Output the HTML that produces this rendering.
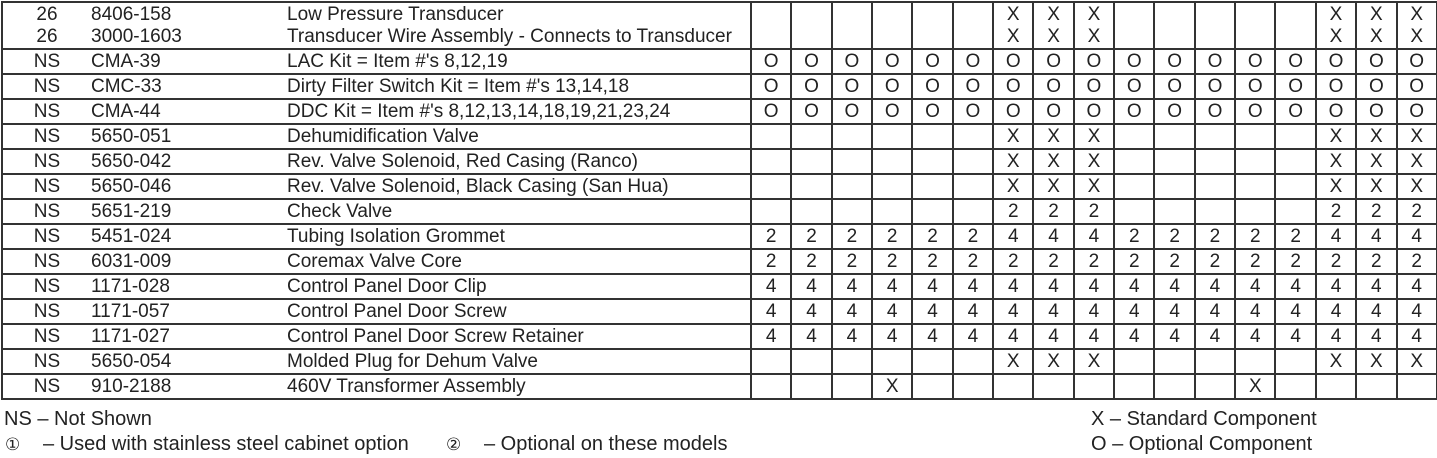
<!DOCTYPE html>
<html><head><meta charset="utf-8"><style>
body{margin:0;width:1437px;height:458px;background:#fff;font-family:"Liberation Sans",sans-serif;color:#222;overflow:hidden;position:relative}
table{position:absolute;left:1px;top:1px;border-collapse:collapse;table-layout:fixed;width:1435px;font-size:19px}
td{border:2px solid #333;padding:0;padding-top:1px;line-height:22px;white-space:nowrap;overflow:hidden}
td.a{border-right:none;text-align:center}
td.b{border-left:none;border-right:none}
td.d{border-left:none}
td.c{text-align:center}
tr{height:25px}
tr.t{height:47px}
.f{position:absolute;font-size:20px;line-height:22px;white-space:nowrap}
.s{font-size:17px}
</style></head><body>
<table>
<colgroup><col style="width:89px"><col style="width:196px"><col style="width:464px"><col span="17" style="width:40.35px"></colgroup>
<tr class="t"><td class="a">26<br>26</td><td class="b">8406-158<br>3000-1603</td><td class="d">Low Pressure Transducer<br>Transducer Wire Assembly - Connects to Transducer</td><td></td><td></td><td></td><td></td><td></td><td></td><td class="c">X<br>X</td><td class="c">X<br>X</td><td class="c">X<br>X</td><td></td><td></td><td></td><td></td><td></td><td class="c">X<br>X</td><td class="c">X<br>X</td><td class="c">X<br>X</td></tr>
<tr><td class="a">NS</td><td class="b">CMA-39</td><td class="d">LAC Kit = Item #'s 8,12,19</td><td class="c">O</td><td class="c">O</td><td class="c">O</td><td class="c">O</td><td class="c">O</td><td class="c">O</td><td class="c">O</td><td class="c">O</td><td class="c">O</td><td class="c">O</td><td class="c">O</td><td class="c">O</td><td class="c">O</td><td class="c">O</td><td class="c">O</td><td class="c">O</td><td class="c">O</td></tr>
<tr><td class="a">NS</td><td class="b">CMC-33</td><td class="d">Dirty Filter Switch Kit = Item #'s 13,14,18</td><td class="c">O</td><td class="c">O</td><td class="c">O</td><td class="c">O</td><td class="c">O</td><td class="c">O</td><td class="c">O</td><td class="c">O</td><td class="c">O</td><td class="c">O</td><td class="c">O</td><td class="c">O</td><td class="c">O</td><td class="c">O</td><td class="c">O</td><td class="c">O</td><td class="c">O</td></tr>
<tr><td class="a">NS</td><td class="b">CMA-44</td><td class="d">DDC Kit = Item #'s 8,12,13,14,18,19,21,23,24</td><td class="c">O</td><td class="c">O</td><td class="c">O</td><td class="c">O</td><td class="c">O</td><td class="c">O</td><td class="c">O</td><td class="c">O</td><td class="c">O</td><td class="c">O</td><td class="c">O</td><td class="c">O</td><td class="c">O</td><td class="c">O</td><td class="c">O</td><td class="c">O</td><td class="c">O</td></tr>
<tr><td class="a">NS</td><td class="b">5650-051</td><td class="d">Dehumidification Valve</td><td></td><td></td><td></td><td></td><td></td><td></td><td class="c">X</td><td class="c">X</td><td class="c">X</td><td></td><td></td><td></td><td></td><td></td><td class="c">X</td><td class="c">X</td><td class="c">X</td></tr>
<tr><td class="a">NS</td><td class="b">5650-042</td><td class="d">Rev. Valve Solenoid, Red Casing (Ranco)</td><td></td><td></td><td></td><td></td><td></td><td></td><td class="c">X</td><td class="c">X</td><td class="c">X</td><td></td><td></td><td></td><td></td><td></td><td class="c">X</td><td class="c">X</td><td class="c">X</td></tr>
<tr><td class="a">NS</td><td class="b">5650-046</td><td class="d">Rev. Valve Solenoid, Black Casing (San Hua)</td><td></td><td></td><td></td><td></td><td></td><td></td><td class="c">X</td><td class="c">X</td><td class="c">X</td><td></td><td></td><td></td><td></td><td></td><td class="c">X</td><td class="c">X</td><td class="c">X</td></tr>
<tr><td class="a">NS</td><td class="b">5651-219</td><td class="d">Check Valve</td><td></td><td></td><td></td><td></td><td></td><td></td><td class="c">2</td><td class="c">2</td><td class="c">2</td><td></td><td></td><td></td><td></td><td></td><td class="c">2</td><td class="c">2</td><td class="c">2</td></tr>
<tr><td class="a">NS</td><td class="b">5451-024</td><td class="d">Tubing Isolation Grommet</td><td class="c">2</td><td class="c">2</td><td class="c">2</td><td class="c">2</td><td class="c">2</td><td class="c">2</td><td class="c">4</td><td class="c">4</td><td class="c">4</td><td class="c">2</td><td class="c">2</td><td class="c">2</td><td class="c">2</td><td class="c">2</td><td class="c">4</td><td class="c">4</td><td class="c">4</td></tr>
<tr><td class="a">NS</td><td class="b">6031-009</td><td class="d">Coremax Valve Core</td><td class="c">2</td><td class="c">2</td><td class="c">2</td><td class="c">2</td><td class="c">2</td><td class="c">2</td><td class="c">2</td><td class="c">2</td><td class="c">2</td><td class="c">2</td><td class="c">2</td><td class="c">2</td><td class="c">2</td><td class="c">2</td><td class="c">2</td><td class="c">2</td><td class="c">2</td></tr>
<tr><td class="a">NS</td><td class="b">1171-028</td><td class="d">Control Panel Door Clip</td><td class="c">4</td><td class="c">4</td><td class="c">4</td><td class="c">4</td><td class="c">4</td><td class="c">4</td><td class="c">4</td><td class="c">4</td><td class="c">4</td><td class="c">4</td><td class="c">4</td><td class="c">4</td><td class="c">4</td><td class="c">4</td><td class="c">4</td><td class="c">4</td><td class="c">4</td></tr>
<tr><td class="a">NS</td><td class="b">1171-057</td><td class="d">Control Panel Door Screw</td><td class="c">4</td><td class="c">4</td><td class="c">4</td><td class="c">4</td><td class="c">4</td><td class="c">4</td><td class="c">4</td><td class="c">4</td><td class="c">4</td><td class="c">4</td><td class="c">4</td><td class="c">4</td><td class="c">4</td><td class="c">4</td><td class="c">4</td><td class="c">4</td><td class="c">4</td></tr>
<tr><td class="a">NS</td><td class="b">1171-027</td><td class="d">Control Panel Door Screw Retainer</td><td class="c">4</td><td class="c">4</td><td class="c">4</td><td class="c">4</td><td class="c">4</td><td class="c">4</td><td class="c">4</td><td class="c">4</td><td class="c">4</td><td class="c">4</td><td class="c">4</td><td class="c">4</td><td class="c">4</td><td class="c">4</td><td class="c">4</td><td class="c">4</td><td class="c">4</td></tr>
<tr><td class="a">NS</td><td class="b">5650-054</td><td class="d">Molded Plug for Dehum Valve</td><td></td><td></td><td></td><td></td><td></td><td></td><td class="c">X</td><td class="c">X</td><td class="c">X</td><td></td><td></td><td></td><td></td><td></td><td class="c">X</td><td class="c">X</td><td class="c">X</td></tr>
<tr><td class="a">NS</td><td class="b">910-2188</td><td class="d">460V Transformer Assembly</td><td></td><td></td><td></td><td class="c">X</td><td></td><td></td><td></td><td></td><td></td><td></td><td></td><td></td><td class="c">X</td><td></td><td></td><td></td><td></td></tr>
</table>
<div class="f" style="left:4px;top:408px">NS – Not Shown</div>
<div class="f s" style="left:5px;top:434px">①</div>
<div class="f" style="left:43px;top:433px">– Used with stainless steel cabinet option</div>
<div class="f s" style="left:446px;top:434px">②</div>
<div class="f" style="left:484px;top:433px">– Optional on these models</div>
<div class="f" style="left:1091px;top:408px">X – Standard Component</div>
<div class="f" style="left:1091px;top:433px">O – Optional Component</div>
</body></html>
